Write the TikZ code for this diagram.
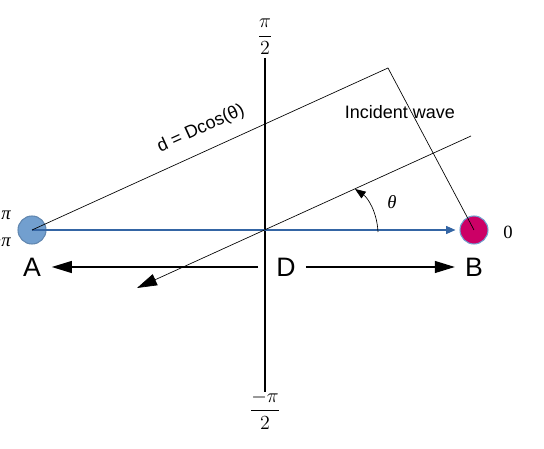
\documentclass[tikz,border=0pt]{standalone}
\usepackage{fix-cm}
\usepackage{fontspec}
\setmainfont{Liberation Sans}
\newfontfamily\serifmath{Liberation Serif}
\usepackage{tikz}
\usetikzlibrary{arrows.meta, positioning, calc}

\definecolor{skyblue}{HTML}{729FCF}
\definecolor{lineblue}{HTML}{3465A4}
\definecolor{berry}{HTML}{CC0066}

\begin{document}
\begin{tikzpicture}[x=0.75pt, y=-0.75pt,
    element/.style={circle, minimum size=21pt, inner sep=0pt, line width=0.8pt},
    bigarrow/.style={line width=0.8pt, -{Triangle[length=15pt, width=9pt]}},
    letter/.style={inner sep=0pt, font=\fontsize{20}{24}\selectfont},
    mathlabel/.style={inner sep=0pt, font=\fontsize{14}{16}\selectfont\serifmath},
    fraclabel/.style={inner sep=0pt, font=\fontsize{15}{18}\selectfont},
    textlabel/.style={inner sep=0pt, font=\fontsize{13.5}{16}\selectfont},
    thinline/.style={line width=0.5pt}]
    \useasboundingbox (0,0) rectangle (544,449);

    % Define coordinates
    \def\cy{230} % Height of the two elements
    \def\ay{267} % Height of the A-D-B arrows
    \coordinate (O) at (265,\cy);
    \coordinate (top) at (265,58);
    \coordinate (bot) at (265,392);
    \coordinate (corner) at (388,68);
    \coordinate (wtail) at (471,136);
    \coordinate (whead) at (137,288);
    \coordinate (arcstart) at (378,232);
    \coordinate (arcend) at (355,189);

    % Elements
    \node[element, fill=skyblue, draw=skyblue!85!black] (A) at (32,\cy) {};
    \node[element, fill=berry, draw=skyblue] (B) at (474,\cy) {};

    % Labels
    \node[letter] (labA) at (32,\ay) {A};
    \node[letter] (labB) at (474,\ay) {B};
    \node[letter] (labD) at (286,\ay) {D};
    \node[fraclabel] (half) at (265,37) {$\displaystyle\frac{\pi}{2}$};
    \node[fraclabel] (mhalf) at (265,410) {$\displaystyle\frac{-\pi}{2}$};
    \node[mathlabel] (zero) at (508,232) {0};
    \node[mathlabel, anchor=east] (pi) at (11,215) {\itshape π};
    \node[mathlabel, anchor=east] (mpi) at (11,242) {−\itshape π};
    \node[mathlabel] (theta) at (392,202) {\itshape θ};
    \node[textlabel] (wave) at (400,112) {Incident wave};
    \node[textlabel, rotate=24.5] (dist) at (201,129) {d = Dcos(θ)};

    % Axis
    \draw[line width=0.8pt] (top) -- (bot);

    % Baseline between the elements
    \draw[lineblue, line width=0.8pt, shorten >=3pt, -{Triangle[length=7pt, width=6pt]}] (A.center) -- (B.west);

    % Path difference
    \draw[thinline] (A.center) -- (corner) -- (B.center);

    % Incident wave
    \draw[thinline, -{Triangle[length=15pt, width=9pt]}] (wtail) -- (whead);

    % Angle
    \draw[thinline, -{Triangle[length=8pt, width=6pt]}] (arcstart) .. controls (377,212) and (368,198) .. (arcend);

    % A - D - B arrows
    \draw[bigarrow] ([xshift=-13.5pt]labD.west) -- ([xshift=8pt]labA.east);
    \draw[bigarrow] ([xshift=7.5pt]labD.east) -- ([xshift=-7.5pt]labB.west);

\end{tikzpicture}
\end{document}
